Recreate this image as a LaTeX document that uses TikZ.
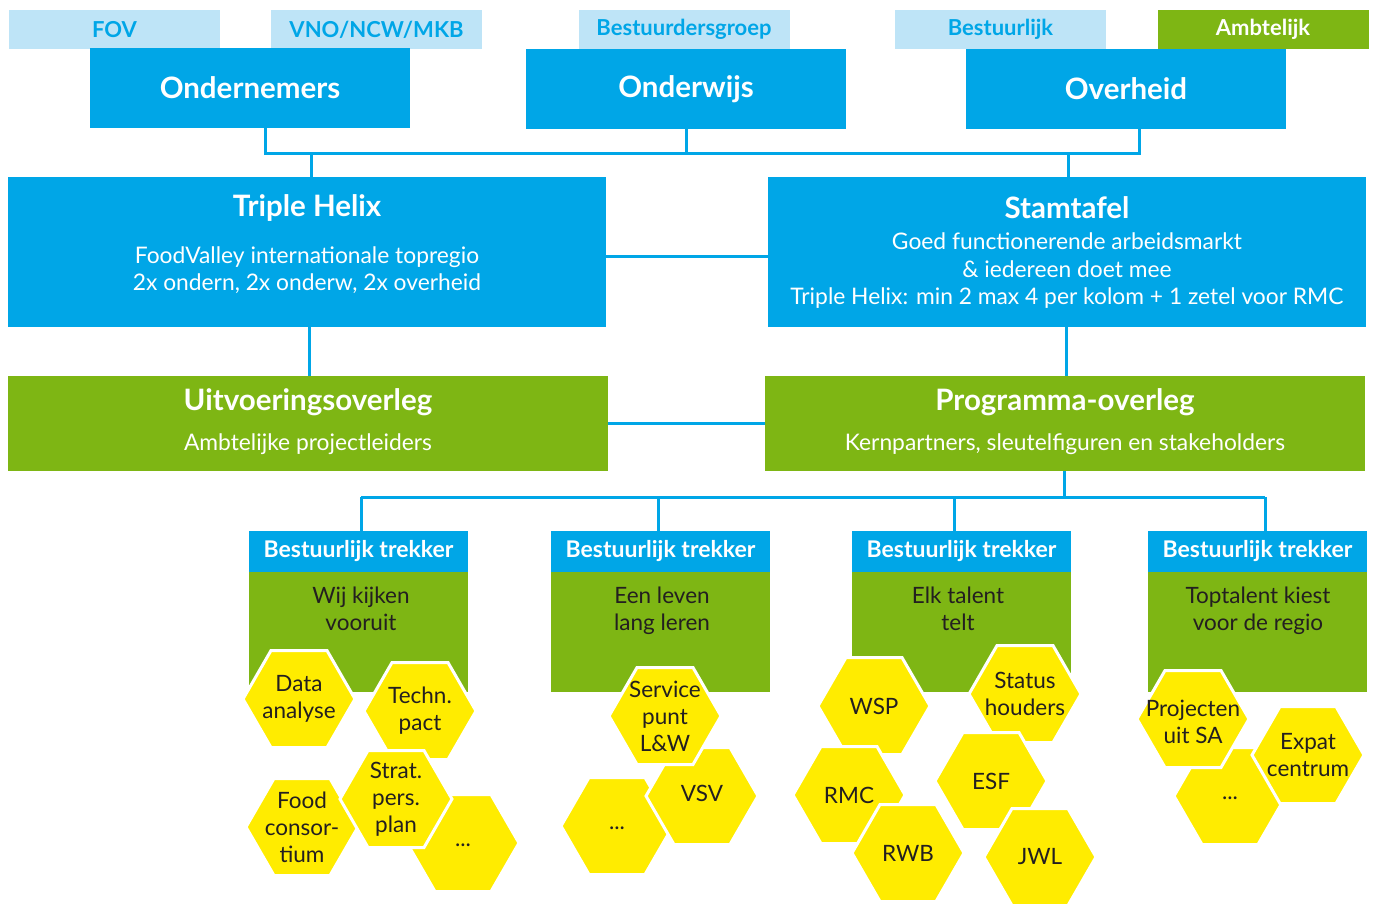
\documentclass[tikz,border=0pt]{standalone}
\usepackage{fontspec}
\setmainfont{Lato}
\usetikzlibrary{shapes.geometric,calc}
\definecolor{hblue}{HTML}{00A6E7}
\definecolor{lblue}{HTML}{BEE4F7}
\definecolor{hgreen}{HTML}{7EB614}
\definecolor{hyel}{HTML}{FFEC00}
\definecolor{dtext}{HTML}{231F20}
\tikzset{
  box/.style={rectangle, inner sep=0pt, outer sep=0pt, draw=none},
  tag/.style={box, fill=lblue, minimum width=211, minimum height=39, text=hblue, font=\bfseries\fontsize{22}{26}\selectfont},
  tagg/.style={tag, fill=hgreen, text=white},
  mainbox/.style={box, fill=hblue, minimum width=320, minimum height=80, text=white, font=\bfseries\fontsize{29.5}{34}\selectfont},
  bigbox/.style={box, minimum width=598, minimum height=150},
  ttl/.style={text=white, font=\bfseries\fontsize{29.5}{34}\selectfont, inner sep=0pt},
  sub/.style={text=white, align=center, font=\fontsize{22.8}{27.5}\selectfont, inner sep=0pt},
  trkhead/.style={box, fill=hblue, minimum width=219, minimum height=41, text=white, font=\bfseries\fontsize{23}{26}\selectfont},
  trkbody/.style={box, fill=hgreen, minimum width=219, minimum height=120},
  trktxt/.style={text=dtext, align=center, font=\fontsize{22.5}{27}\selectfont, inner sep=0pt},
  hex/.style={regular polygon, regular polygon sides=6, minimum size=112, inner sep=0pt, outer sep=0pt, fill=hyel, draw=white, line width=3},
  hextxt/.style={text=dtext, align=center, font=\fontsize{22.5}{27}\selectfont, inner sep=0pt},
  conn/.style={draw=hblue, line width=3},
}
\begin{document}
\begin{tikzpicture}[x=1pt,y=-1pt]
\useasboundingbox[fill=white] (0,0) rectangle (1377,903);

% top tags
\node[tag] (fov) at (114.5,29.5) {FOV};
\node[tag] (vno) at (376.5,29.5) {VNO/NCW/MKB};
\node[tag] (bgr) at (684,29.5) {Bestuurdersgroep};
\node[tag] (bst) at (1000.5,29.5) {Bestuurlijk};
\node[tagg] (amb) at (1263,29.5) {Ambtelijk};

% main boxes
\node[mainbox] (ond) at (250,88) {Ondernemers};
\node[mainbox] (ondw) at (686,89) {Onderwijs};
\node[mainbox] (ovh) at (1126,89) {Overheid};

% triple helix / stamtafel
\node[bigbox, fill=hblue] (th) at (307,252) {};
\node[ttl] (thT) at (307,208) {Triple Helix};
\node[sub] (thS) at (307,270) {FoodValley internationale topregio\\2x ondern, 2x onderw, 2x overheid};
\node[bigbox, fill=hblue] (st) at (1067,252) {};
\node[ttl] (stT) at (1067,208) {Stamtafel};
\node[sub] (stS) at (1067,271) {Goed functionerende arbeidsmarkt\\\& iedereen doet mee\\Triple Helix: min 2 max 4 per kolom + 1 zetel voor RMC};

% uitvoering / programma
\node[bigbox, fill=hgreen, minimum width=600, minimum height=95] (uv) at (308,423.5) {};
\node[ttl] (uvT) at (308,402) {Uitvoeringsoverleg};
\node[sub] (uvS) at (308,444) {Ambtelijke projectleiders};
\node[bigbox, fill=hgreen, minimum width=600, minimum height=95] (po) at (1065,423.5) {};
\node[ttl] (poT) at (1065,402) {Programma-overleg};
\node[sub] (poS) at (1065,444) {Kernpartners, sleutelfiguren en stakeholders};

% connectors top
\coordinate (bL) at (265,153);
\coordinate (bR) at (1139,153);
\draw[conn] (ond.south -| bL) -- (bL) -- (bR) -- (ovh.south -| bR);
\draw[conn] (ondw.south) -- (ondw.south |- bL);
\coordinate (tL) at (311,153);
\coordinate (tR) at (1068,153);
\draw[conn] (tL) -- (th.north -| tL);
\draw[conn] (tR) -- (st.north -| tR);
\coordinate (m1) at (0,256);
\draw[conn] (th.east |- m1) -- (st.west |- m1);
\coordinate (v1) at (309,0);
\coordinate (v2) at (1066,0);
\draw[conn] (th.south -| v1) -- (uv.north -| v1);
\draw[conn] (st.south -| v2) -- (po.north -| v2);
\coordinate (m2) at (0,423);
\draw[conn] (uv.east |- m2) -- (po.west |- m2);

% trekker boxes
\node[trkbody] (tb1) at (358.5,632) {};
\node[trkbody] (tb2) at (660.5,632) {};
\node[trkbody] (tb3) at (961.5,632) {};
\node[trkbody] (tb4) at (1257.5,632) {};
\node[trkhead] (tk1) at (358.5,551.5) {Bestuurlijk trekker};
\node[trkhead] (tk2) at (660.5,551.5) {Bestuurlijk trekker};
\node[trkhead] (tk3) at (961.5,551.5) {Bestuurlijk trekker};
\node[trkhead] (tk4) at (1257.5,551.5) {Bestuurlijk trekker};
\node[trktxt] (tt1) at (361,609) {Wij kijken\\vooruit};
\node[trktxt] (tt2) at (662,611) {Een leven\\lang leren};
\node[trktxt] (tt3) at (958,609) {Elk talent\\telt};
\node[trktxt] (tt4) at (1258,611) {Toptalent kiest\\voor de regio};

% connectors bottom
\coordinate (b2) at (1064,497);
\coordinate (c1) at (361,497);
\coordinate (c2) at (658,497);
\coordinate (c3) at (954,497);
\coordinate (c4) at (1265,497);
\draw[conn] (po.south -| b2) -- (b2);
\draw[conn] (c1) -- (c4);
\draw[conn] (c1) -- (tk1.north -| c1);
\draw[conn] (c2) -- (tk2.north -| c2);
\draw[conn] (c3) -- (tk3.north -| c3);
\draw[conn] (c4) -- (tk4.north -| c4);

% column 1 hexagons
\node[hex] (hData) at (299,699) {};
\node[hextxt] (tData) at (hData) {Data\\analyse};
\node[hex] (hTech) at (420,711) {};
\node[hextxt] (tTech) at (hTech) {Techn.\\pact};
\node[hex] (hFood) at (302,827) {};
\node[hextxt] (tFood) at (hFood) {Food\\consor-\\tium};
\node[hex] (hDot1) at (463,843) {};
\node[hextxt, anchor=base] (tDot1) at (463,846) {...};
\node[hex] (hStrat) at (396,799) {};
\node[hextxt] (tStrat) at (hStrat) {Strat.\\pers.\\plan};

% column 2 hexagons
\node[hex] (hDot2) at (617,826) {};
\node[hextxt, anchor=base] (tDot2) at (617,829) {...};
\node[hex] (hVSV) at (702,796) {};
\node[hextxt] (tVSV) at (702,793) {VSV};
\node[hex] (hServ) at (665,716) {};
\node[hextxt] (tServ) at (hServ) {Service\\punt\\L\&W};

% column 3 hexagons
\node[hex] (hWSP) at (874,706) {};
\node[hextxt] (tWSP) at (hWSP) {WSP};
\node[hex] (hRMC) at (849,795) {};
\node[hextxt] (tRMC) at (hRMC) {RMC};
\node[hex] (hRWB) at (908,853) {};
\node[hextxt] (tRWB) at (hRWB) {RWB};
\node[hex] (hStat) at (1025,694) {};
\node[hextxt] (tStat) at (hStat) {Status\\houders};
\node[hex] (hESF) at (991,781) {};
\node[hextxt] (tESF) at (hESF) {ESF};
\node[hex] (hJWL) at (1040,857) {};
\node[hextxt] (tJWL) at (hJWL) {JWL};

% column 4 hexagons
\node[hex] (hDot4) at (1230,796) {};
\node[hextxt, anchor=base] (tDot4) at (1230,799) {...};
\node[hex] (hProj) at (1193,719) {};
\node[hextxt] (tProj) at (1193,722) {Projecten\\uit SA};
\node[hex] (hExp) at (1308,755) {};
\node[hextxt] (tExp) at (hExp) {Expat\\centrum};
\end{tikzpicture}
\end{document}
